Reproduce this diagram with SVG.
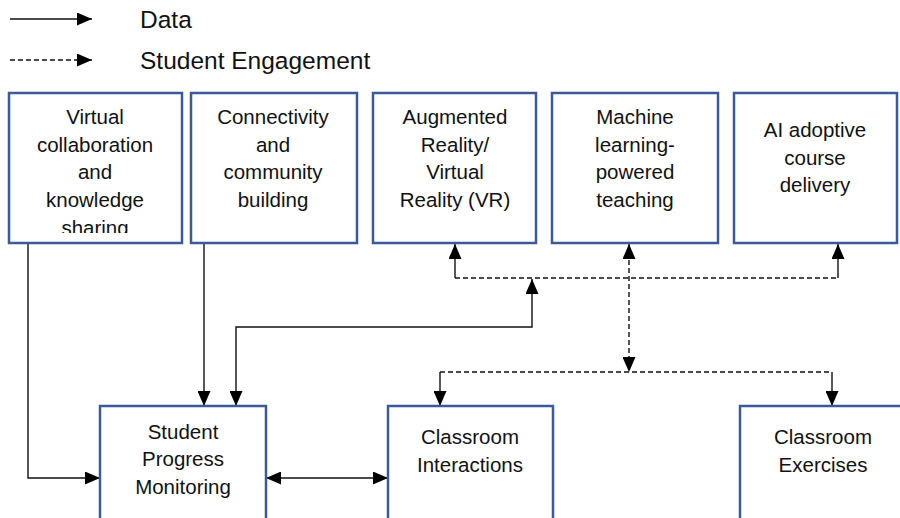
<svg xmlns="http://www.w3.org/2000/svg" width="900" height="518" viewBox="0 0 900 518">
<style>
.box{fill:#fff;stroke:#3a5a9a;stroke-width:2.5}
.t{font-family:"Liberation Sans",Arial,sans-serif;font-size:20.5px;fill:#111;text-anchor:middle}
.lg{font-family:"Liberation Sans",Arial,sans-serif;font-size:24.5px;fill:#111}
.s{fill:none;stroke:#111;stroke-width:1.4}
.d{fill:none;stroke:#111;stroke-width:1.4;stroke-dasharray:5 3}
</style>
<defs>
<marker id="ah" viewBox="0 0 15 13" refX="15" refY="6.5" markerWidth="15" markerHeight="13" markerUnits="userSpaceOnUse" orient="auto-start-reverse">
<path d="M0,0 L15,6.5 L0,13 z" fill="#000"/>
</marker>
<clipPath id="clip1"><rect x="9" y="93" width="173" height="140"/></clipPath>
</defs>

<g id="legend">
<path class="s" d="M10,19 H92" marker-end="url(#ah)"/>
<text class="lg" x="140" y="28">Data</text>
<path class="d" d="M10,60 H92" marker-end="url(#ah)"/>
<text class="lg" x="140" y="69">Student Engagement</text>
</g>

<g id="connectors">
<path class="s" d="M28,243 V478 H100" marker-end="url(#ah)"/>
<path class="s" d="M204,243 V406" marker-end="url(#ah)"/>
<path class="s" d="M236,406 V327 H532 V279" marker-start="url(#ah)" marker-end="url(#ah)"/>
<path class="s" d="M266,478 H388" marker-start="url(#ah)" marker-end="url(#ah)"/>
<path class="d" d="M455,278 H838"/>
<path class="s" d="M455,278 V244" marker-end="url(#ah)"/>
<path class="s" d="M838,278 V244" marker-end="url(#ah)"/>
<path class="d" d="M629,244 V372" marker-start="url(#ah)" marker-end="url(#ah)"/>
<path class="d" d="M440,372 H832"/>
<path class="s" d="M440,372 V406" marker-end="url(#ah)"/>
<path class="s" d="M832,372 V406" marker-end="url(#ah)"/>
</g>

<g id="virtual-collaboration">
<rect class="box" x="9" y="93" width="173" height="150"/>
<g clip-path="url(#clip1)">
<text class="t" x="95" y="124">Virtual</text>
<text class="t" x="95" y="152">collaboration</text>
<text class="t" x="95" y="179">and</text>
<text class="t" x="95" y="207">knowledge</text>
<text class="t" x="95" y="235">sharing</text>
</g>
</g>

<g id="connectivity">
<rect class="box" x="191" y="93" width="166" height="150"/>
<text class="t" x="273" y="124">Connectivity</text>
<text class="t" x="273" y="152">and</text>
<text class="t" x="273" y="179">community</text>
<text class="t" x="273" y="207">building</text>
</g>

<g id="ar-vr">
<rect class="box" x="373" y="93" width="163" height="150"/>
<text class="t" x="455" y="124">Augmented</text>
<text class="t" x="455" y="152">Reality/</text>
<text class="t" x="455" y="179">Virtual</text>
<text class="t" x="455" y="207">Reality (VR)</text>
</g>

<g id="machine-learning">
<rect class="box" x="552" y="93" width="166" height="150"/>
<text class="t" x="635" y="124">Machine</text>
<text class="t" x="635" y="152">learning-</text>
<text class="t" x="635" y="179">powered</text>
<text class="t" x="635" y="207">teaching</text>
</g>

<g id="ai-adoptive">
<rect class="box" x="734" y="93" width="163" height="150"/>
<text class="t" x="815" y="137">AI adoptive</text>
<text class="t" x="815" y="165">course</text>
<text class="t" x="815" y="192">delivery</text>
</g>

<g id="student-progress">
<rect class="box" x="100" y="406" width="166" height="120"/>
<text class="t" x="183" y="439">Student</text>
<text class="t" x="183" y="466">Progress</text>
<text class="t" x="183" y="494">Monitoring</text>
</g>

<g id="classroom-interactions">
<rect class="box" x="388" y="406" width="165" height="120"/>
<text class="t" x="470" y="444">Classroom</text>
<text class="t" x="470" y="472">Interactions</text>
</g>

<g id="classroom-exercises">
<rect class="box" x="740" y="406" width="170" height="120"/>
<text class="t" x="823" y="444">Classroom</text>
<text class="t" x="823" y="472">Exercises</text>
</g>
</svg>
